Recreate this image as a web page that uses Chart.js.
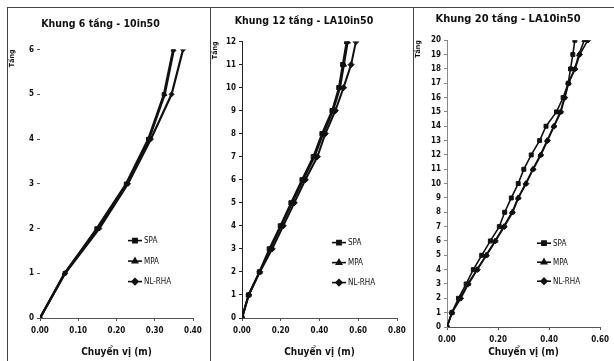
<!DOCTYPE html>
<html>
<head>
<meta charset="utf-8">
<script src="https://cdn.jsdelivr.net/npm/chart.js@4/dist/chart.umd.min.js"></script>
<style>
  html, body { margin: 0; padding: 0; background: #fff; }
  #page { position: relative; width: 614px; height: 361px; overflow: hidden; background: #fff; }
  .frame { position: absolute; top: 7px; height: 354px; border-top: 1px solid #444; border-left: 1px solid #444; box-sizing: border-box; }
  canvas { position: absolute; top: 0; }
</style>
</head>
<body>
<div id="page">
  <div class="frame" style="left:7px;width:203px"></div>
  <div class="frame" style="left:210px;width:203px"></div>
  <div class="frame" style="left:413px;width:201px"></div>
  <canvas id="c6" width="202" height="361" style="left:8px"></canvas>
  <canvas id="c12" width="202" height="361" style="left:211px"></canvas>
  <canvas id="c20" width="200" height="361" style="left:414px"></canvas>
</div>
<script>
  // ── Data ─────────────────────────────────────────────────────────────────
  const floors6 = [0, 1, 2, 3, 4, 5, 6];
  const spa6 = [0, 0.065, 0.148, 0.225, 0.283, 0.324, 0.348];
  const mpa6 = [0, 0.064, 0.150, 0.228, 0.285, 0.326, 0.350];
  const nlrha6 = [0, 0.066, 0.155, 0.230, 0.290, 0.344, 0.374];

  const floors12 = [0, 1, 2, 3, 4, 5, 6, 7, 8, 9, 10, 11, 12];
  const spa12 = [0, 0.034, 0.090, 0.141, 0.198, 0.253, 0.310, 0.368, 0.413, 0.465, 0.500, 0.520, 0.540];
  const mpa12 = [0, 0.034, 0.091, 0.146, 0.203, 0.259, 0.316, 0.374, 0.419, 0.470, 0.506, 0.526, 0.546];
  const nlrha12 = [0, 0.035, 0.092, 0.156, 0.213, 0.270, 0.327, 0.389, 0.430, 0.482, 0.524, 0.563, 0.588];

  const floors20 = [0, 1, 2, 3, 4, 5, 6, 7, 8, 9, 10, 11, 12, 13, 14, 15, 16, 17, 18, 19, 20];
  const spa20 = [0, 0.019, 0.045, 0.075, 0.103, 0.136, 0.170, 0.205, 0.226, 0.252, 0.279, 0.301, 0.330, 0.363, 0.388, 0.429, 0.455, 0.475, 0.484, 0.493, 0.501];
  const mpa20 = [0, 0.020, 0.050, 0.082, 0.117, 0.153, 0.188, 0.222, 0.255, 0.278, 0.308, 0.336, 0.366, 0.392, 0.418, 0.444, 0.460, 0.476, 0.500, 0.517, 0.538];
  const nlrha20 = [0, 0.019, 0.054, 0.084, 0.119, 0.155, 0.190, 0.225, 0.257, 0.280, 0.310, 0.338, 0.368, 0.394, 0.420, 0.446, 0.462, 0.476, 0.502, 0.520, 0.552];

  const seriesNames = ['SPA', 'MPA', 'NL-RHA'];
  const markers = ['rect', 'triangle', 'rectRot'];

  const FONT = "'Liberation Sans Narrow', 'DejaVu Sans Condensed', sans-serif";
  const INK = '#111';

  // ── Legend drawn inside the plot area ───────────────────────────────────
  const insideLegend = {
    id: 'insideLegend',
    afterDatasetsDraw(chart, args, opts) {
      const { ctx, chartArea: a } = chart;
      const x0 = a.left + opts.dx;
      let y = a.top + opts.dy;
      ctx.save();
      ctx.font = '8px ' + FONT;
      ctx.textBaseline = 'middle';
      chart.data.datasets.forEach((ds) => {
        ctx.strokeStyle = INK;
        ctx.fillStyle = INK;
        ctx.lineWidth = 1.6;
        ctx.beginPath();
        ctx.moveTo(x0, y);
        ctx.lineTo(x0 + 14, y);
        ctx.stroke();
        Chart.helpers.drawPoint(ctx, { pointStyle: ds.pointStyle, radius: 3, borderWidth: 1 }, x0 + 7, y);
        ctx.fillText(ds.label, x0 + 16, y + 0.5);
        y += opts.gap;
      });
      ctx.restore();
    },
  };

  function makeChart(id, cfg) {
    const lists = [cfg.spa, cfg.mpa, cfg.nl];
    const datasets = lists.map((vals, i) => ({
      label: seriesNames[i],
      data: vals.map((v, k) => ({ x: v, y: cfg.floors[k] })),
      borderColor: INK,
      backgroundColor: INK,
      borderWidth: cfg.lineWidth,
      pointStyle: markers[i],
      pointRadius: cfg.pointRadius,
      pointBorderWidth: 1,
      showLine: true,
      tension: 0,
    }));

    return new Chart(document.getElementById(id), {
      type: 'scatter',
      data: { datasets },
      plugins: [insideLegend],
      options: {
        responsive: false,
        animation: false,
        layout: { padding: { top: 0, right: cfg.padRight, bottom: 0, left: 0 } },
        plugins: {
          legend: { display: false },
          tooltip: { enabled: false },
          title: {
            display: true,
            text: cfg.title,
            color: INK,
            font: { family: FONT, size: cfg.titleSize, weight: 'bold' },
            padding: { top: cfg.titleTop, bottom: cfg.titleBottom },
          },
          insideLegend: cfg.legend,
        },
        scales: {
          x: {
            type: 'linear',
            min: 0,
            max: cfg.xMax,
            afterFit: (s) => { s.height = cfg.xAxisHeight; },
            ticks: {
              stepSize: cfg.xStep,
              color: INK,
              padding: 5,
              font: { family: FONT, size: 8, weight: 'bold' },
              callback: (v) => Number(v).toFixed(2),
            },
            grid: { display: true, drawOnChartArea: false, drawTicks: true, tickLength: 3, color: '#555' },
            border: { display: true, color: '#555', width: 1 },
            title: {
              display: true,
              text: 'Chuyển vị (m)',
              color: INK,
              font: { family: FONT, size: 10, weight: 'bold' },
              padding: { top: 2, bottom: 3 },
            },
          },
          y: {
            type: 'linear',
            min: 0,
            max: cfg.floors[cfg.floors.length - 1],
            afterFit: (s) => { s.width = cfg.yAxisWidth; },
            ticks: {
              stepSize: 1,
              color: INK,
              padding: 3,
              font: { family: FONT, size: 8, weight: 'bold' },
            },
            grid: { display: true, drawOnChartArea: false, drawTicks: true, tickLength: 3, color: cfg.yAxisColor },
            border: { display: cfg.yBorder, color: cfg.yAxisColor, width: 1 },
            title: {
              display: true,
              text: 'Tầng',
              align: 'end',
              color: INK,
              font: { family: FONT, size: 7, weight: 'bold' },
              padding: { top: 0, bottom: 2 },
            },
          },
        },
      },
    });
  }

  makeChart('c6', {
    title: 'Khung 6 tầng - 10in50',
    floors: floors6, spa: spa6, mpa: mpa6, nl: nlrha6,
    xMax: 0.4, xStep: 0.1,
    lineWidth: 2.2, pointRadius: 2.5,
    titleSize: 10.5, titleTop: 18, titleBottom: 19,
    padRight: 17, xAxisHeight: 43, yAxisWidth: 32,
    yAxisColor: '#555', yBorder: false,
    legend: { dx: 88, dy: 191, gap: 20.5 },
  });

  makeChart('c12', {
    title: 'Khung 12 tầng - LA10in50',
    floors: floors12, spa: spa12, mpa: mpa12, nl: nlrha12,
    xMax: 0.8, xStep: 0.2,
    lineWidth: 2, pointRadius: 3,
    titleSize: 10.5, titleTop: 15, titleBottom: 14,
    padRight: 16, xAxisHeight: 43, yAxisWidth: 31,
    yAxisColor: '#222', yBorder: true,
    legend: { dx: 90, dy: 201, gap: 20 },
  });

  makeChart('c20', {
    title: 'Khung 20 tầng - LA10in50',
    floors: floors20, spa: spa20, mpa: mpa20, nl: nlrha20,
    xMax: 0.6, xStep: 0.2,
    lineWidth: 1.6, pointRadius: 2.8,
    titleSize: 11, titleTop: 13, titleBottom: 14,
    padRight: 12, xAxisHeight: 34, yAxisWidth: 33,
    yAxisColor: '#888', yBorder: true,
    legend: { dx: 90, dy: 203, gap: 19 },
  });
</script>
</body>
</html>
